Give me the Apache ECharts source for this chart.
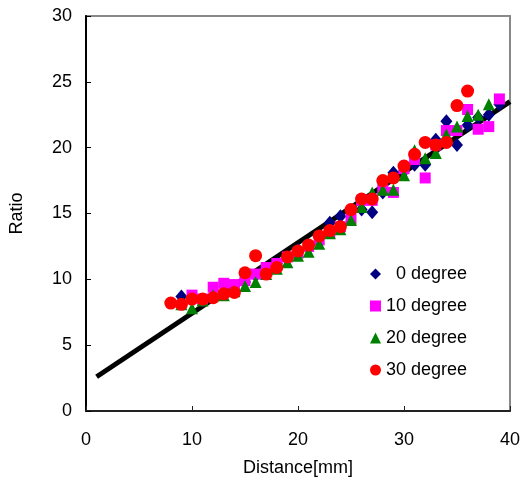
<!DOCTYPE html>
<html>
<head>
<meta charset="utf-8">
<script src="https://cdn.jsdelivr.net/npm/echarts@6/dist/echarts.min.js"></script>
<style>html,body{margin:0;padding:0;background:#fff}#c{width:523px;height:482px}</style>
</head>
<body>
<div id="c"></div>
<script>
var xTicks = [0, 10, 20, 30, 40];
var yTicks = [0, 5, 10, 15, 20, 25, 30];
var names = ['\u00a0\u00a00 degree', '10 degree', '20 degree', '30 degree'];
var d0x = [9,10,11,12,13,14,15,16,17,18,19,20,21,22,23,24,25,26,27,28,29,30,31,32,33,34,35,36,37,38,39];
var d0y = [8.7,8.6,8.4,8.7,9.0,9.5,9.8,10.3,10.7,11.2,11.7,12.2,12.6,13.2,14.3,14.8,15.2,15.3,15.1,16.6,18.1,18.2,18.7,18.7,20.6,22.0,20.2,21.7,22.3,22.5,23.3];
var d10x = [10,11,12,13,14,15,16,17,18,19,20,21,22,23,24,25,26,27,28,29,30,31,32,33,34,35,36,37,38,39];
var d10y = [8.8,8.5,9.4,9.7,9.6,9.9,10.4,10.9,11.2,11.7,12.0,12.5,13.0,13.5,14.0,14.6,16.0,16.0,16.8,16.6,18.4,19.1,17.7,20.2,21.3,21.3,22.9,21.4,21.6,23.7];
var d20x = [9,10,11,12,13,14,15,16,17,18,19,20,21,22,23,24,25,26,27,28,29,30,31,32,33,34,35,36,37,38];
var d20y = [8.1,7.8,8.4,8.8,8.8,9.1,9.5,9.8,10.4,10.8,11.3,11.8,12.1,12.7,13.5,13.8,14.5,15.5,16.6,16.8,16.8,17.9,19.8,19.2,19.6,21.0,21.6,22.4,22.5,23.3];
var d30x = [8,9,10,11,12,13,14,15,16,17,18,19,20,21,22,23,24,25,26,27,28,29,30,31,32,33,34,35,36];
var d30y = [8.2,8.1,8.5,8.5,8.6,8.9,9.0,10.5,11.8,10.4,10.9,11.7,12.15,12.6,13.3,13.7,14.0,15.3,16.1,16.1,17.5,17.7,18.6,19.5,20.4,20.2,20.4,23.2,24.3];
var fitX = [1, 40];
var fitY = [2.6, 23.5];

function zip(xs, ys) { return xs.map(function (x, i) { return [x, ys[i]]; }); }

var font = 'Liberation Sans, Arial, sans-serif';
var chart = echarts.init(document.getElementById('c'));
chart.setOption({
  animation: false,
  backgroundColor: '#fff',
  grid: { left: 86, right: 11, top: 16, bottom: 71, show: true, borderColor: '#888', borderWidth: 2 },
  xAxis: {
    type: 'value', min: xTicks[0], max: xTicks[xTicks.length - 1], interval: 10,
    name: 'Distance[mm]', nameLocation: 'middle', nameGap: 48,
    nameTextStyle: { fontSize: 18, color: '#000', fontFamily: font },
    axisLine: { show: true, lineStyle: { color: '#222', width: 2 } },
    axisTick: { show: true, inside: true, length: 5, lineStyle: { color: '#222' } },
    axisLabel: { fontSize: 18, color: '#000', fontFamily: font, margin: 20 },
    splitLine: { show: false }
  },
  yAxis: {
    type: 'value', min: yTicks[0], max: yTicks[yTicks.length - 1], interval: 5,
    name: 'Ratio', nameLocation: 'middle', nameGap: 60,
    nameTextStyle: { fontSize: 18, color: '#000', fontFamily: font },
    axisLine: { show: true, lineStyle: { color: '#000', width: 2 } },
    axisTick: { show: true, inside: true, length: 5, lineStyle: { color: '#000' } },
    axisLabel: { fontSize: 18, color: '#000', fontFamily: font, margin: 14 },
    splitLine: { show: false }
  },
  legend: {
    orient: 'vertical', left: 365, top: 259, itemGap: 12, itemWidth: 11, itemHeight: 11,
    textStyle: { fontSize: 18, color: '#000', fontFamily: font, lineHeight: 20 },
    data: [
      { name: names[0], icon: 'diamond' },
      { name: names[1], icon: 'rect' },
      { name: names[2], icon: 'triangle' },
      { name: names[3], icon: 'circle' }
    ]
  },
  series: [
    { name: 'fit', type: 'line', data: zip(fitX, fitY), showSymbol: false, symbol: 'none',
      lineStyle: { color: '#000', width: 5 }, z: 1 },
    { name: names[0], type: 'scatter', symbol: 'diamond', symbolSize: [12, 14], data: zip(d0x, d0y), itemStyle: { color: '#000080', opacity: 1 }, z: 2 },
    { name: names[1], type: 'scatter', symbol: 'rect', symbolSize: 11, data: zip(d10x, d10y), itemStyle: { color: '#FF00FF', opacity: 1 }, z: 3 },
    { name: names[2], type: 'scatter', symbol: 'triangle', symbolSize: [12, 12], data: zip(d20x, d20y), itemStyle: { color: '#008000', opacity: 1 }, z: 4 },
    { name: names[3], type: 'scatter', symbol: 'circle', symbolSize: 13, data: zip(d30x, d30y), itemStyle: { color: '#FF0000', opacity: 1 }, z: 5 }
  ]
});
</script>
</body>
</html>
